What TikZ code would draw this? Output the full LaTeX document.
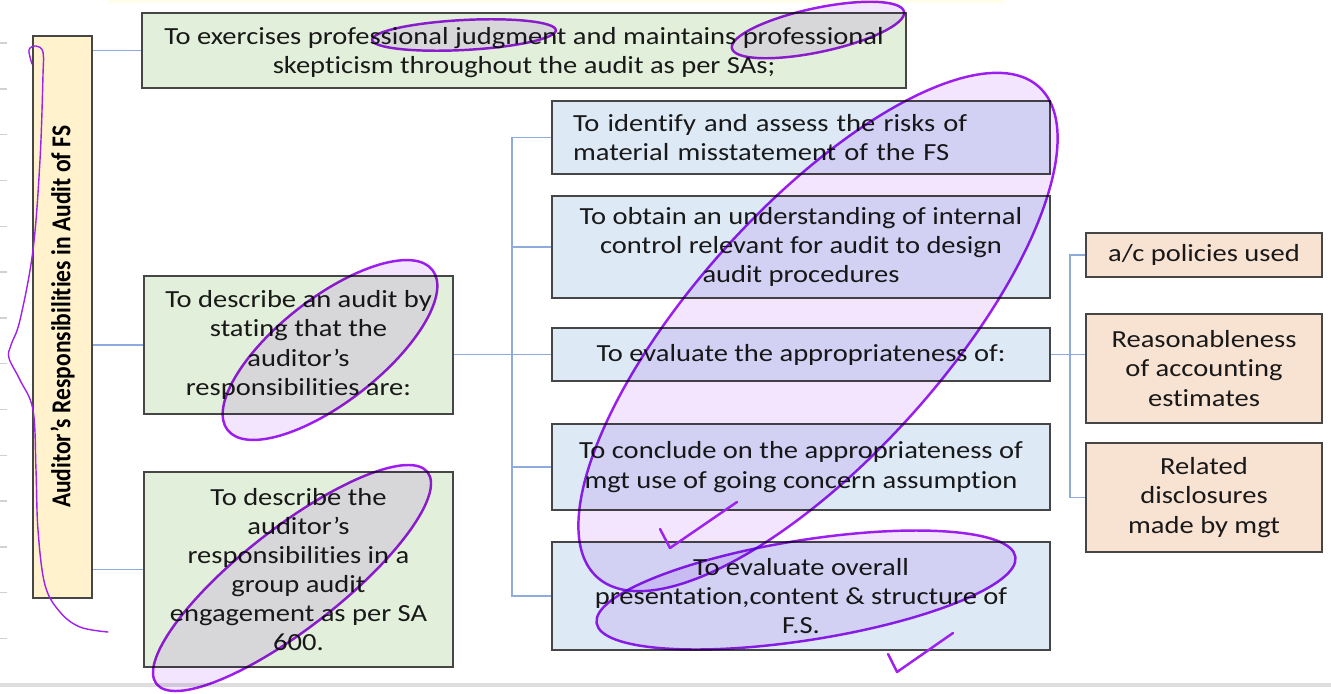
\documentclass[tikz,border=0pt]{standalone}
\usepackage{graphicx}
\usepackage{fontspec}
\setmainfont{Carlito}[FakeStretch=1.16, Ligatures=CommonOff]
\newfontfamily\titlefont{Carlito}[Ligatures=CommonOff]
\definecolor{headfill}{RGB}{255,242,204}
\definecolor{respfill}{RGB}{226,239,218}
\definecolor{taskfill}{RGB}{221,233,245}
\definecolor{itemfill}{RGB}{248,226,210}
\definecolor{boxline}{RGB}{70,70,70}
\definecolor{linkblue}{RGB}{143,170,220}
\definecolor{inkpurple}{RGB}{160,32,240}
\definecolor{inkfill}{RGB}{243,229,253}
\begin{document}
\begin{tikzpicture}[x=0.02cm, y=-0.02cm,
  box/.style={draw=boxline, line width=0.9pt, align=center, inner sep=0pt,
    font=\fontsize{14}{16.6}\selectfont, text={black!90}},
  head/.style={box, fill=headfill, minimum width=1.18cm, minimum height=11.24cm},
  resp/.style={box, fill=respfill, minimum width=6.18cm},
  task/.style={box, fill=taskfill, minimum width=9.96cm},
  item/.style={box, fill=itemfill, minimum width=4.72cm},
  link/.style={draw=linkblue, line width=0.6pt},
  ink/.style={draw=inkpurple, line width=1.4pt, line join=round, line cap=round},
  blob/.style={ink, fill=inkfill}
]
  \useasboundingbox (0,0) rectangle (1331,693);
  % page edges
  \fill[yellow!8] (108,0) rectangle (1005,3);
  \fill[black!13] (0,683) rectangle (1331,687);
  \foreach \k in {0,...,13}
    \draw[black!18, line width=0.8pt] (0,43+45.8*\k) -- (7,43+45.8*\k);

  % left title
  \node[head] (title) at (62.5,317) {};
  \node[rotate=90, font=\titlefont\fontsize{13.4}{16}\selectfont\bfseries] (titletext) at (title)
    {\scalebox{1}[1.16]{Auditor’s Responsibilities in Audit of FS}};

  % first level
  \node[resp, minimum width=15.28cm, minimum height=1.5cm] (judge) at (524,50.5)
    {\strut To exercises professional judgment and maintains professional\\skepticism throughout the audit as per SAs;};
  \node[resp, minimum height=2.76cm] (describe) at (298.5,345)
    {To describe an audit by\\stating that the\\auditor’s\\responsibilities are:};
  \node[resp, minimum height=3.9cm] (group) at (298.5,569.5)
    {To describe the\\auditor’s\\responsibilities in a\\group audit\\engagement as per SA\\600.};

  % auditor's responsibilities
  \node[task, minimum height=1.46cm, text width=9.12cm, inner xsep=0.42cm, align=left] (risk) at (801,137.5)
    {To identify and assess the risks of\\material misstatement of the FS};
  \node[task, minimum height=2.04cm] (control) at (801,247)
    {To obtain an understanding of internal\\control relevant for audit to design\\audit procedures};
  \node[task, minimum height=1.06cm] (evaluate) at (801,354.5)
    {To evaluate the appropriateness of:};
  \node[task, minimum height=1.72cm] (concern) at (801,467)
    {To conclude on the appropriateness of\\mgt use of going concern assumption};
  \node[task, minimum height=2.16cm] (overall) at (801,596)
    {To evaluate overall\\presentation,content \& structure of\\F.S.};

  % appropriateness of
  \node[item, minimum height=0.88cm] (policies) at (1204,255) {a/c policies used};
  \node[item, minimum height=2.18cm] (estimates) at (1204,368.5)
    {Reasonableness\\of accounting\\estimates};
  \node[item, minimum height=2.18cm] (disclose) at (1204,497.5)
    {Related\\disclosures\\made by mgt};

  % connectors
  \foreach \b in {judge,describe,group}
    \draw[link] (title.east |- \b) -- (\b.west);
  \coordinate (j1) at (512,354.5);
  \coordinate (j2) at (1070,354.5);
  \draw[link] (describe.east |- evaluate) -- (evaluate.west);
  \draw[link] (risk.west) -| (j1) |- (overall.west);
  \foreach \b in {control,concern}
    \draw[link] (j1 |- \b) -- (\b.west);
  \draw[link] (evaluate.east) -- (estimates.west |- evaluate);
  \draw[link] (policies.west) -| (j2) |- (disclose.west);

  % pen marks
  \begin{scope}[blend mode=multiply]
    \draw[blob, shift={(464,35)}, rotate=3] (0,0) ellipse (92 and 15);
    \draw[blob, shift={(818,30)}, rotate=12] (0,0) ellipse (88 and 22);
    \draw[blob, shift={(330,350)}, rotate=38] (0,0) ellipse (130 and 52);
    \draw[blob, shift={(292,578)}, rotate=38] (0,0) ellipse (172 and 50);
    \draw[blob, shift={(818,332)}, rotate=48] (0,0) ellipse (330 and 125);
    \draw[blob, shift={(806,590)}, rotate=9] (0,0) ellipse (212 and 50);
  \end{scope}
  \draw[ink] (660,529) -- (670,548) -- (737,502);
  \draw[ink] (888,654) -- (897,672) -- (953,633);
  \draw[ink, line width=0.8pt] plot[smooth, tension=0.6] coordinates {(32,64) (29,50) (36,46) (43,52) (43,75) (40,160) (33,250) (20,320) (11,345) (9,358) (20,380) (33,410) (36,470) (38,530) (45,585) (60,612) (80,627) (108,632)};
\end{tikzpicture}
\end{document}
